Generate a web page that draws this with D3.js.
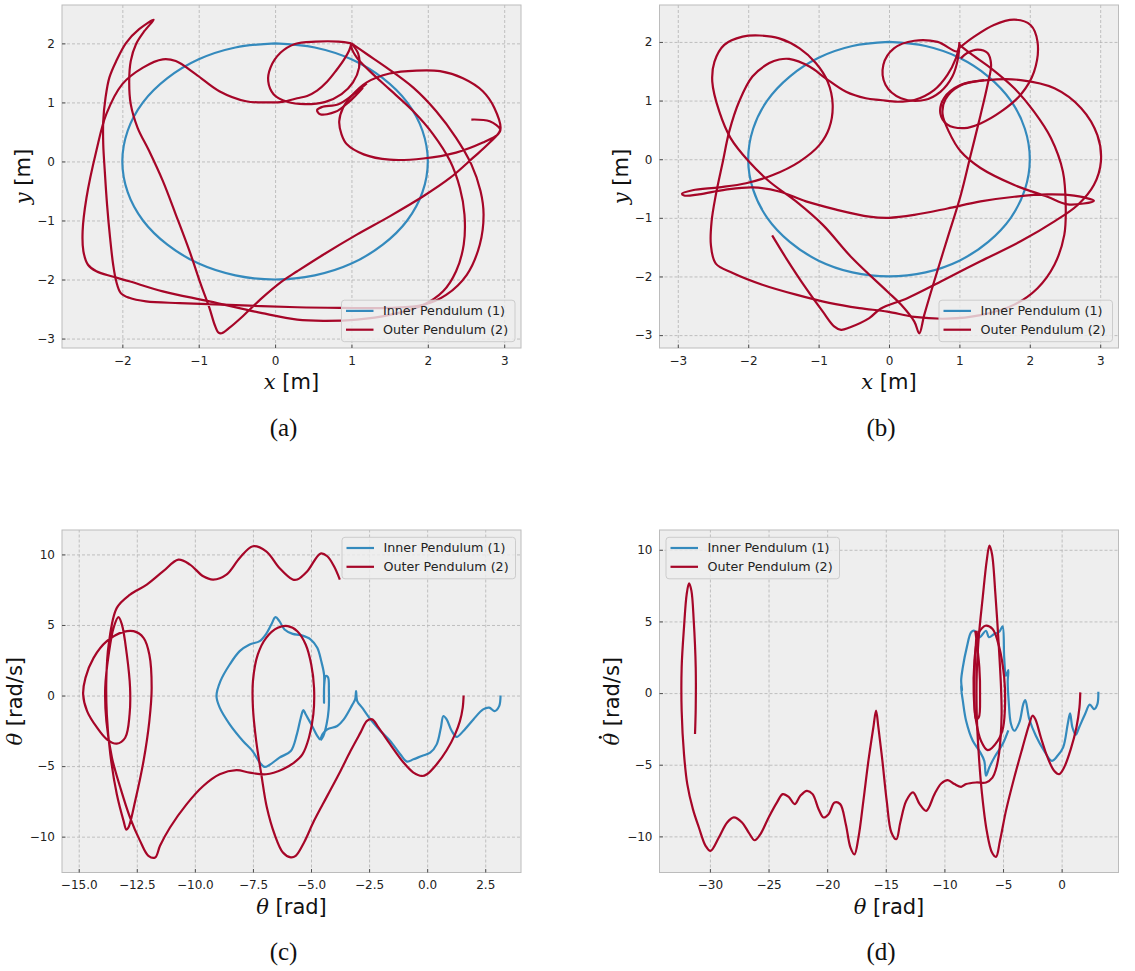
<!DOCTYPE html>
<html>
<head>
<meta charset="utf-8">
<script src="https://cdn.jsdelivr.net/npm/d3@7"></script>
<style>
  body { margin: 0; background: #fff; }
  svg { display: block; }
</style>
</head>
<body>
<svg id="fig" width="1135" height="971"></svg>
<script>
// ---- data ----
const seriesNames = ["Inner Pendulum (1)", "Outer Pendulum (2)"];

// inner bob path, (x, y) in metres (same circle in a and b)
const innerXY = [[0,2],[0.52,1.93],[1,1.73],[1.41,1.41],[1.73,1],[1.93,0.52],[2,0],[1.93,-0.52],[1.73,-1],[1.41,-1.41],[1,-1.73],[0.52,-1.93],[0,-2],[-0.52,-1.93],[-1,-1.73],[-1.41,-1.41],[-1.73,-1],[-1.93,-0.52],[-2,0],[-1.93,0.52],[-1.73,1],[-1.41,1.41],[-1,1.73],[-0.52,1.93],[0,2]];

// outer bob, panel (a)
const outerA = [
  [[1.0,2.0],[0.83,2.03],[0.53,2.03],[0.26,1.99],[0.07,1.84],[-0.06,1.59],[-0.09,1.36],[-0.02,1.14],[0.16,1.01],[0.39,0.97],[0.66,1.01],[0.87,1.14],[1.02,1.34],[1.10,1.59],[1.09,1.82],[1.0,2.0]],
  [[1.0,2.0],[0.97,1.88],[0.9,1.72],[0.8,1.54],[0.68,1.35],[0.55,1.2],[0.42,1.11],[0.29,1.07],[0.1,1.01],[-0.08,1.0],[-0.38,1.02],[-0.73,1.19],[-1.04,1.48],[-1.30,1.70],[-1.47,1.73],[-1.73,1.59],[-2.0,1.31],[-2.21,0.80],[-2.34,0.18],[-2.47,-0.62],[-2.52,-1.18],[-2.51,-1.52],[-2.45,-1.75],[-2.34,-1.86],[-2.13,-1.95],[-1.91,-2.03],[-1.47,-2.20],[-0.86,-2.37],[-0.17,-2.57],[0.29,-2.68],[0.63,-2.70],[1.07,-2.68],[1.50,-2.60],[1.94,-2.43],[2.20,-2.20],[2.37,-1.86],[2.47,-1.41],[2.48,-0.90],[2.42,-0.45],[2.29,0.01],[2.07,0.46],[1.81,0.85],[1.50,1.22],[1.24,1.53],[1.07,1.76],[1.0,1.93],[1.0,2.0]],
  [[1.0,2.0],[1.20,1.82],[1.46,1.59],[1.81,1.25],[2.11,0.85],[2.37,0.40],[2.57,-0.05],[2.69,-0.50],[2.73,-0.90],[2.68,-1.41],[2.51,-1.92],[2.24,-2.26],[1.94,-2.43],[1.50,-2.48],[0.85,-2.48],[0.29,-2.47],[-0.60,-2.43],[-1.25,-2.40],[-1.69,-2.37],[-1.91,-2.31],[-2.02,-2.23],[-2.08,-2.03],[-2.12,-1.75],[-2.16,-1.30],[-2.20,-0.73],[-2.23,-0.16],[-2.25,0.29],[-2.25,0.68],[-2.22,1.08],[-2.17,1.42],[-2.08,1.70],[-1.95,2.01],[-1.78,2.24],[-1.59,2.40],[-1.71,2.21],[-1.82,1.99],[-1.89,1.70],[-1.91,1.36],[-1.89,0.97],[-1.80,0.57],[-1.65,0.18],[-1.47,-0.33],[-1.30,-0.90],[-1.12,-1.52],[-0.97,-2.09],[-0.86,-2.48],[-0.79,-2.77],[-0.74,-2.90],[-0.70,-2.91],[-0.60,-2.82],[-0.43,-2.63],[-0.17,-2.31],[0.09,-2.03],[0.29,-1.86],[0.63,-1.58],[1.07,-1.24],[1.50,-0.93],[1.94,-0.59],[2.29,-0.28],[2.59,0.06],[2.81,0.32],[2.95,0.54],[2.87,0.91],[2.72,1.19],[2.46,1.41],[2.16,1.53],[1.85,1.54],[1.50,1.49],[1.20,1.34],[1.0,1.11],[0.89,0.91],[0.84,0.68],[0.87,0.46],[0.94,0.29],[1.16,0.12],[1.50,0.03],[1.94,0.05],[2.37,0.15],[2.72,0.32],[2.92,0.46],[2.95,0.54],[2.81,0.68],[2.57,0.71]],
  [[1.2,1.32],[1.0,1.11],[0.83,0.97],[0.61,0.92],[0.55,0.87],[0.59,0.80],[0.79,0.84],[0.96,1.0],[1.05,1.11],[1.15,1.25]]
];

// outer bob, panel (b)
const outerB = [
  [[1.0,2.0],[0.97,1.84],[0.69,2.0],[0.36,2.02],[0.07,1.89],[-0.08,1.61],[-0.05,1.27],[0.17,1.04],[0.50,1.01],[0.73,1.15],[0.90,1.41],[0.98,1.72],[1.0,2.0]],
  [[1.0,1.95],[0.95,1.72],[0.83,1.44],[0.64,1.18],[0.36,1.01],[0.12,0.98],[-0.12,1.01],[-0.33,1.04],[-0.61,1.15],[-0.90,1.38],[-1.13,1.58],[-1.42,1.71],[-1.56,1.70],[-1.70,1.64],[-1.94,1.41],[-2.13,0.98],[-2.27,0.47],[-2.36,-0.04],[-2.46,-0.61],[-2.52,-1.06],[-2.53,-1.46],[-2.46,-1.78],[-2.22,-1.94],[-1.80,-2.14],[-1.32,-2.31],[-0.85,-2.45],[-0.42,-2.54],[-0.02,-2.60],[0.36,-2.69],[0.83,-2.72],[1.30,-2.66],[1.78,-2.48],[2.11,-2.20],[2.35,-1.80],[2.49,-1.29],[2.51,-0.78],[2.47,-0.21],[2.30,0.36],[2.06,0.81],[1.78,1.21],[1.45,1.55],[1.16,1.80],[1.0,1.95]],
  [[1.02,1.72],[1.11,1.81],[1.26,1.87],[1.40,1.81],[1.45,1.61],[1.40,1.27],[1.30,0.75],[1.16,0.07],[1.02,-0.61],[0.83,-1.35],[0.64,-2.09],[0.50,-2.66],[0.43,-2.97],[0.36,-2.77],[0.17,-2.48],[-0.02,-2.26],[-0.52,-1.69],[-0.94,-1.12],[-1.32,-0.72],[-1.70,-0.38],[-1.99,-0.04],[-2.25,0.36],[-2.41,0.81],[-2.51,1.32],[-2.48,1.66],[-2.34,1.95],[-2.08,2.09],[-1.84,2.11],[-1.56,2.06],[-1.27,1.89],[-1.04,1.64],[-0.87,1.32],[-0.80,0.93],[-0.85,0.53],[-0.99,0.24],[-1.27,-0.04],[-1.65,-0.27],[-2.03,-0.41],[-2.41,-0.48],[-2.79,-0.53],[-2.94,-0.59],[-2.91,-0.62],[-2.70,-0.60],[-2.32,-0.52],[-1.94,-0.48],[-1.56,-0.55],[-1.18,-0.72],[-0.75,-0.86],[-0.28,-0.98],[0.0,-1.0],[0.36,-0.95],[0.83,-0.84],[1.30,-0.72],[1.78,-0.64],[2.25,-0.60],[2.63,-0.62],[2.91,-0.71],[2.54,-0.77],[2.25,-0.64],[1.78,-0.44],[1.30,-0.15],[1.02,0.13],[0.85,0.47],[0.76,0.78],[0.80,1.02],[1.0,1.25],[1.35,1.35]],
  [[1.0,1.9],[1.21,2.09],[1.49,2.29],[1.78,2.38],[2.01,2.29],[2.11,2.0],[2.06,1.49],[1.87,1.10],[1.59,0.81],[1.30,0.61],[1.07,0.53],[0.83,0.59],[0.73,0.78],[0.78,1.04],[1.02,1.27],[1.40,1.35],[1.87,1.35],[2.35,1.21],[2.73,0.87],[2.96,0.41],[3.01,-0.04],[2.91,-0.44],[2.68,-0.78],[2.35,-1.06],[1.87,-1.40],[1.30,-1.74],[0.73,-2.09],[0.26,-2.37],[-0.12,-2.55],[-0.28,-2.71],[-0.56,-2.87],[-0.68,-2.91],[-0.78,-2.85],[-0.94,-2.60],[-1.18,-2.20],[-1.46,-1.69],[-1.66,-1.30]]
];

// phase portraits (theta, theta-dot), panel (c)
const innerC = [[3.16,0.0],[3.10,-0.75],[2.91,-1.10],[2.67,-0.86],[2.41,-0.98],[1.99,-1.69],[1.56,-2.51],[1.27,-2.93],[1.06,-2.51],[0.84,-1.69],[0.70,-1.45],[0.59,-2.28],[0.41,-3.46],[0.13,-4.05],[-0.23,-4.28],[-0.59,-4.52],[-0.87,-4.68],[-1.16,-4.16],[-1.59,-3.22],[-2.01,-2.51],[-2.44,-1.69],[-2.80,-0.86],[-3.01,-0.39],[-3.06,0.32],[-3.10,-0.27],[-3.23,-0.68],[-3.59,-1.69],[-3.87,-2.16],[-4.30,-2.40],[-4.51,-2.75],[-4.61,-3.10],[-4.73,-2.86],[-4.99,-2.04],[-5.23,-1.33],[-5.33,-1.03],[-5.44,-1.57],[-5.61,-2.75],[-5.87,-3.93],[-6.36,-4.40],[-6.79,-4.92],[-7.0,-5.06],[-7.21,-4.75],[-7.5,-3.97],[-7.93,-3.22],[-8.5,-2.04],[-8.93,-0.86],[-9.07,-0.04],[-8.9,1.02],[-8.5,2.20],[-8.07,3.15],[-7.64,3.62],[-7.21,3.86],[-6.93,4.37],[-6.71,5.03],[-6.53,5.55],[-6.36,5.27],[-6.14,4.68],[-5.79,4.37],[-5.44,4.28],[-5.01,3.97],[-4.73,3.38],[-4.56,2.44],[-4.44,1.50],[-4.44,0.32],[-4.44,-0.51],[-4.43,0.79],[-4.36,1.38],[-4.27,1.31],[-4.23,0.32],[-4.24,-0.98],[-4.33,-2.04],[-4.47,-2.87],[-4.59,-3.17]];
const outerC = [[1.57,0.0],[1.53,-0.87],[1.41,-1.81],[1.20,-2.75],[0.84,-3.88],[0.41,-4.87],[-0.01,-5.58],[-0.23,-5.70],[-0.59,-5.46],[-1.01,-4.76],[-1.59,-3.46],[-2.09,-2.28],[-2.37,-1.69],[-2.59,-1.80],[-2.87,-2.63],[-3.30,-3.93],[-3.73,-5.34],[-4.30,-7.11],[-4.87,-8.88],[-5.30,-10.41],[-5.66,-11.36],[-5.87,-11.47],[-6.21,-11.12],[-6.57,-9.83],[-6.90,-7.94],[-7.14,-5.58],[-7.36,-3.22],[-7.50,-0.86],[-7.50,1.02],[-7.29,2.91],[-6.93,4.09],[-6.43,4.80],[-6.00,4.92],[-5.59,4.56],[-5.23,3.62],[-4.99,2.20],[-4.87,0.55],[-4.90,-1.34],[-5.09,-2.99],[-5.37,-4.17],[-5.73,-4.75],[-6.21,-5.22],[-6.93,-5.58],[-7.64,-5.46],[-8.21,-5.29],[-8.93,-5.58],[-9.64,-6.41],[-10.36,-7.71],[-11.07,-9.35],[-11.5,-10.65],[-11.71,-11.48],[-12.0,-11.36],[-12.36,-10.30],[-12.79,-8.65],[-13.21,-6.52],[-13.57,-4.40],[-13.81,-1.81],[-13.86,0.55],[-13.71,2.91],[-13.5,4.80],[-13.29,5.55],[-13.14,5.03],[-12.93,2.91],[-12.79,0.55],[-12.81,-1.34],[-13.0,-2.99],[-13.36,-3.41],[-13.79,-3.10],[-14.21,-2.28],[-14.64,-1.10],[-14.81,0.08],[-14.71,1.25],[-14.36,2.67],[-13.79,3.85],[-13.07,4.51],[-12.64,4.56],[-12.21,4.09],[-11.96,2.91],[-11.86,0.55],[-11.96,-1.81],[-12.21,-4.64],[-12.57,-7.47],[-12.86,-9.35],[-12.95,-9.5],[-13.07,-8.88],[-13.36,-7.0],[-13.64,-4.17],[-13.79,-1.34],[-13.81,1.25],[-13.71,3.62],[-13.36,6.21],[-12.79,7.15],[-12.07,7.86],[-11.36,8.81],[-10.71,9.63],[-10.21,9.28],[-9.64,8.45],[-9.21,8.22],[-8.64,8.57],[-8.07,9.75],[-7.5,10.58],[-6.93,10.22],[-6.36,9.04],[-5.79,8.22],[-5.59,8.22],[-5.16,8.81],[-4.59,10.06],[-4.30,9.87],[-4.01,9.16],[-3.76,8.22]];

// panel (d)
const innerD = [[3.13,0.09],[3.05,-0.77],[2.77,-1.12],[2.40,-0.81],[2.0,-1.46],[1.49,-2.40],[1.20,-2.91],[0.92,-2.40],[0.72,-1.42],[0.52,-2.16],[0.13,-3.79],[-0.35,-4.38],[-0.84,-4.73],[-1.49,-4.03],[-2.20,-2.98],[-2.76,-1.81],[-3.10,-0.49],[-3.27,-0.77],[-3.61,-2.05],[-4.04,-2.63],[-4.32,-2.16],[-4.52,-0.53],[-4.6,0.8],[-4.55,1.6],[-4.75,1.2],[-4.9,2.5],[-5.04,4.66],[-5.3,4.3],[-5.74,4.12],[-6.2,3.9],[-6.45,4.35],[-7.02,3.89],[-7.44,4.35],[-7.72,4.24],[-8.09,3.19],[-8.43,1.79],[-8.57,0.86],[-8.49,0.17],[-8.6,0.5],[-8.43,-0.53],[-8.15,-1.93],[-7.58,-3.33],[-7.02,-4.03],[-6.6,-4.73],[-6.45,-5.77],[-6.17,-5.19],[-5.74,-4.49],[-5.03,-3.56],[-4.55,-2.6]];
const outerD = [
  [[1.59,0.05],[1.52,-1.0],[1.26,-2.40],[0.78,-3.91],[0.21,-5.19],[-0.21,-5.66],[-0.64,-5.42],[-1.20,-4.49],[-1.77,-3.10],[-2.25,-1.81],[-2.48,-1.58],[-2.76,-2.16],[-3.33,-3.79],[-4.04,-5.89],[-4.75,-8.22],[-5.26,-10.31],[-5.60,-11.43],[-5.94,-11.13],[-6.39,-9.61],[-6.79,-7.05],[-7.07,-4.26],[-7.24,-1.47],[-7.24,1.33],[-7.07,3.89],[-6.73,6.68],[-6.39,9.24],[-6.16,10.29],[-5.94,9.71],[-5.65,6.91],[-5.37,3.42],[-5.17,0.40],[-5.12,-1.46],[-5.2,-3.0],[-5.37,-4.4],[-5.6,-5.3],[-5.9,-5.9],[-6.45,-6.24],[-7.30,-6.24],[-8.15,-6.35],[-8.57,-6.54],[-9.14,-6.35],[-9.71,-6.07],[-10.27,-6.31],[-10.84,-7.05],[-11.55,-8.22],[-12.11,-7.75],[-12.68,-6.93],[-13.25,-7.52],[-13.76,-9.03],[-14.10,-10.20],[-14.52,-9.73],[-14.92,-7.52],[-15.29,-4.72],[-15.63,-2.40],[-15.83,-1.23],[-16.06,-2.40],[-16.48,-4.72],[-16.91,-7.52],[-17.33,-10.08],[-17.67,-11.25],[-18.01,-10.78],[-18.41,-9.15],[-18.89,-7.75],[-19.37,-7.64],[-19.88,-8.45],[-20.31,-8.68],[-20.73,-8.10],[-21.24,-7.05],[-21.73,-6.82],[-22.29,-7.17],[-22.77,-7.75],[-23.28,-7.24],[-23.79,-7.05],[-24.28,-7.63],[-24.99,-8.68],[-25.69,-9.84],[-26.18,-10.27],[-26.69,-9.73],[-27.26,-9.03],[-27.96,-8.68],[-28.53,-9.03],[-29.24,-10.08],[-29.95,-11.01],[-30.37,-10.66],[-30.94,-9.38],[-31.45,-8.10],[-31.93,-6.35],[-32.21,-4.26],[-32.41,-1.23],[-32.41,1.79],[-32.21,4.59],[-31.98,6.91],[-31.78,7.66],[-31.58,7.15],[-31.38,5.05],[-31.21,1.79],[-31.21,-1.0],[-31.27,-2.86]],
  [[-7.16,4.12],[-6.51,4.70],[-5.89,4.47],[-5.32,3.19],[-4.90,1.09],[-4.82,-0.53],[-4.99,-2.40],[-5.45,-3.33],[-6.31,-3.98],[-6.88,-3.33],[-7.30,-1.93],[-7.50,-0.07],[-7.44,2.26],[-7.16,4.12]],
  [[-7.36,4.35],[-7.02,1.79],[-6.96,-0.07],[-7.07,-1.70],[-7.30,-1.81],[-7.44,-0.07],[-7.39,2.26],[-7.24,4.35]]
];

// ---- drawing ----
const blue = "#348ABD", red = "#A60628";
const svg = d3.select("#fig");
const fmtInt = d3.format("d"), fmt1 = d3.format(".1f");

const panels = [
  {box:[62,5,521,348], xd:[-2.79,3.22], yd:[-3.16,2.65], xt:[-2,-1,0,1,2,3], yt:[-3,-2,-1,0,1,2], xf:fmtInt,
   inner:[innerXY], outer:outerA, legend:"lr", xl:["x"," [m]"], yl:["y"," [m]"], ylx:23, cap:"(a)"},
  {box:[659.5,5,1118.5,348], xd:[-3.26,3.26], yd:[-3.22,2.63], xt:[-3,-2,-1,0,1,2,3], yt:[-3,-2,-1,0,1,2], xf:fmtInt,
   inner:[innerXY], outer:outerB, legend:"lr", xl:["x"," [m]"], yl:["y"," [m]"], ylx:621, cap:"(b)"},
  {box:[62,530,521,872.5], xd:[-15.72,4.04], yd:[-12.54,11.73], xt:[-15,-12.5,-10,-7.5,-5,-2.5,0,2.5], yt:[-10,-5,0,5,10], xf:fmt1,
   inner:[innerC], outer:[outerC], legend:"ur", xl:["θ"," [rad]"], yl:["θ"," [rad/s]"], ylx:15, cap:"(c)"},
  {box:[659.5,530,1118.5,872.5], xd:[-34.3,4.85], yd:[-12.52,11.38], xt:[-30,-25,-20,-15,-10,-5,0], yt:[-10,-5,0,5,10], xf:fmtInt,
   inner:[innerD], outer:outerD, legend:"ul", xl:["θ"," [rad]"], yl:["θ"," [rad/s]"], ydot:true, ylx:612, cap:"(d)"}
];

panels.forEach((p, i) => {
  const [x0, y0, x1, y1] = p.box;
  const x = d3.scaleLinear().domain(p.xd).range([x0, x1]);
  const y = d3.scaleLinear().domain(p.yd).range([y1, y0]);
  const g = svg.append("g");

  g.append("rect").attr("x", x0).attr("y", y0).attr("width", x1 - x0).attr("height", y1 - y0).attr("fill", "#eeeeee");

  // grid
  const gridStyle = s => { s.select(".domain").remove(); s.selectAll("line").attr("stroke", "#b2b2b2").attr("stroke-width", 0.8).attr("stroke-dasharray", "3,2"); };
  g.append("g").attr("transform", `translate(0,${y1})`)
    .call(d3.axisBottom(x).tickValues(p.xt).tickSize(-(y1 - y0)).tickFormat("")).call(gridStyle);
  g.append("g").attr("transform", `translate(${x0},0)`)
    .call(d3.axisLeft(y).tickValues(p.yt).tickSize(-(x1 - x0)).tickFormat("")).call(gridStyle);

  // data lines
  const clipId = "clip" + i;
  g.append("clipPath").attr("id", clipId).append("rect").attr("x", x0).attr("y", y0).attr("width", x1 - x0).attr("height", y1 - y0);
  const line = d3.line().x(d => x(d[0])).y(d => y(d[1])).curve(d3.curveCatmullRom.alpha(0.5));
  const lines = g.append("g").attr("clip-path", `url(#${clipId})`).attr("fill", "none").attr("stroke-width", 2.2).attr("stroke-linejoin", "round");
  p.inner.forEach(s => lines.append("path").attr("d", line(s)).attr("stroke", blue));
  p.outer.forEach(s => lines.append("path").attr("d", line(s)).attr("stroke", red));

  // frame
  g.append("rect").attr("x", x0).attr("y", y0).attr("width", x1 - x0).attr("height", y1 - y0).attr("fill", "none").attr("stroke", "#bcbcbc").attr("stroke-width", 1);

  // axes with inward ticks
  const styleAxis = s => {
    s.select(".domain").remove();
    s.selectAll("line").attr("stroke", "#333").attr("stroke-width", 0.8);
    s.selectAll("text").attr("font-family", "DejaVu Sans").attr("font-size", 12).attr("fill", "#222");
  };
  g.append("g").attr("transform", `translate(0,${y1})`)
    .call(d3.axisBottom(x).tickValues(p.xt).tickSize(-3.5).tickPadding(8).tickFormat(p.xf)).call(styleAxis);
  g.append("g").attr("transform", `translate(${x0},0)`)
    .call(d3.axisLeft(y).tickValues(p.yt).tickSize(-3.5).tickPadding(7).tickFormat(fmtInt)).call(styleAxis);

  // axis labels
  const xl = g.append("text").attr("x", (x0 + x1) / 2).attr("y", y1 + 34).attr("text-anchor", "middle").attr("dominant-baseline", "central")
    .attr("font-family", "DejaVu Sans").attr("font-size", 21).attr("fill", "#111");
  xl.append("tspan").attr("font-family", "DejaVu Serif").attr("font-style", "italic").text(p.xl[0]);
  xl.append("tspan").text(p.xl[1]);

  const yg = g.append("g").attr("transform", `translate(${p.ylx},${(y0 + y1) / 2}) rotate(-90)`);
  const yl = yg.append("text").attr("y", 7.3).attr("text-anchor", "middle")
    .attr("font-family", "DejaVu Sans").attr("font-size", 21).attr("fill", "#111");
  const sym = yl.append("tspan").attr("font-family", "DejaVu Serif").attr("font-style", "italic").text(p.yl[0]);
  yl.append("tspan").text(p.yl[1]);
  if (p.ydot) {
    const ex = sym.node().getExtentOfChar(0);
    yg.append("circle").attr("cx", ex.x + ex.width / 2 + 2).attr("cy", 7.3 - 19).attr("r", 1.5).attr("fill", "#111");
  }

  // legend
  const lw = 173.5, lh = 41.5;
  let lx, ly;
  if (p.legend === "lr") { lx = x1 - 6 - lw; ly = y1 - 6.3 - lh; }
  else if (p.legend === "ur") { lx = x1 - 5.5 - lw; ly = y0 + 7.3; }
  else { lx = x0 + 6.5; ly = y0 + 7.3; }
  const lg = g.append("g").attr("transform", `translate(${lx},${ly})`);
  lg.append("rect").attr("width", lw).attr("height", lh).attr("rx", 3).attr("fill", "#eeeeee").attr("fill-opacity", 0.8).attr("stroke", "#cccccc").attr("stroke-width", 1);
  [blue, red].forEach((c, k) => {
    const ey = 10.7 + k * 18.8;
    lg.append("line").attr("x1", 4.5).attr("x2", 32).attr("y1", ey).attr("y2", ey).attr("stroke", c).attr("stroke-width", 2.2);
    lg.append("text").attr("x", 41.5).attr("y", ey).attr("dominant-baseline", "central").attr("font-family", "DejaVu Sans").attr("font-size", 12.7).attr("fill", "#222").text(seriesNames[k]);
  });

  // caption
  svg.append("text").attr("x", (x0 + x1) / 2 - 8).attr("y", y1 + 79).attr("text-anchor", "middle").attr("dominant-baseline", "central")
    .attr("font-family", "Liberation Serif").attr("font-size", 25).attr("fill", "#111").text(p.cap);
});
</script>
</body>
</html>
